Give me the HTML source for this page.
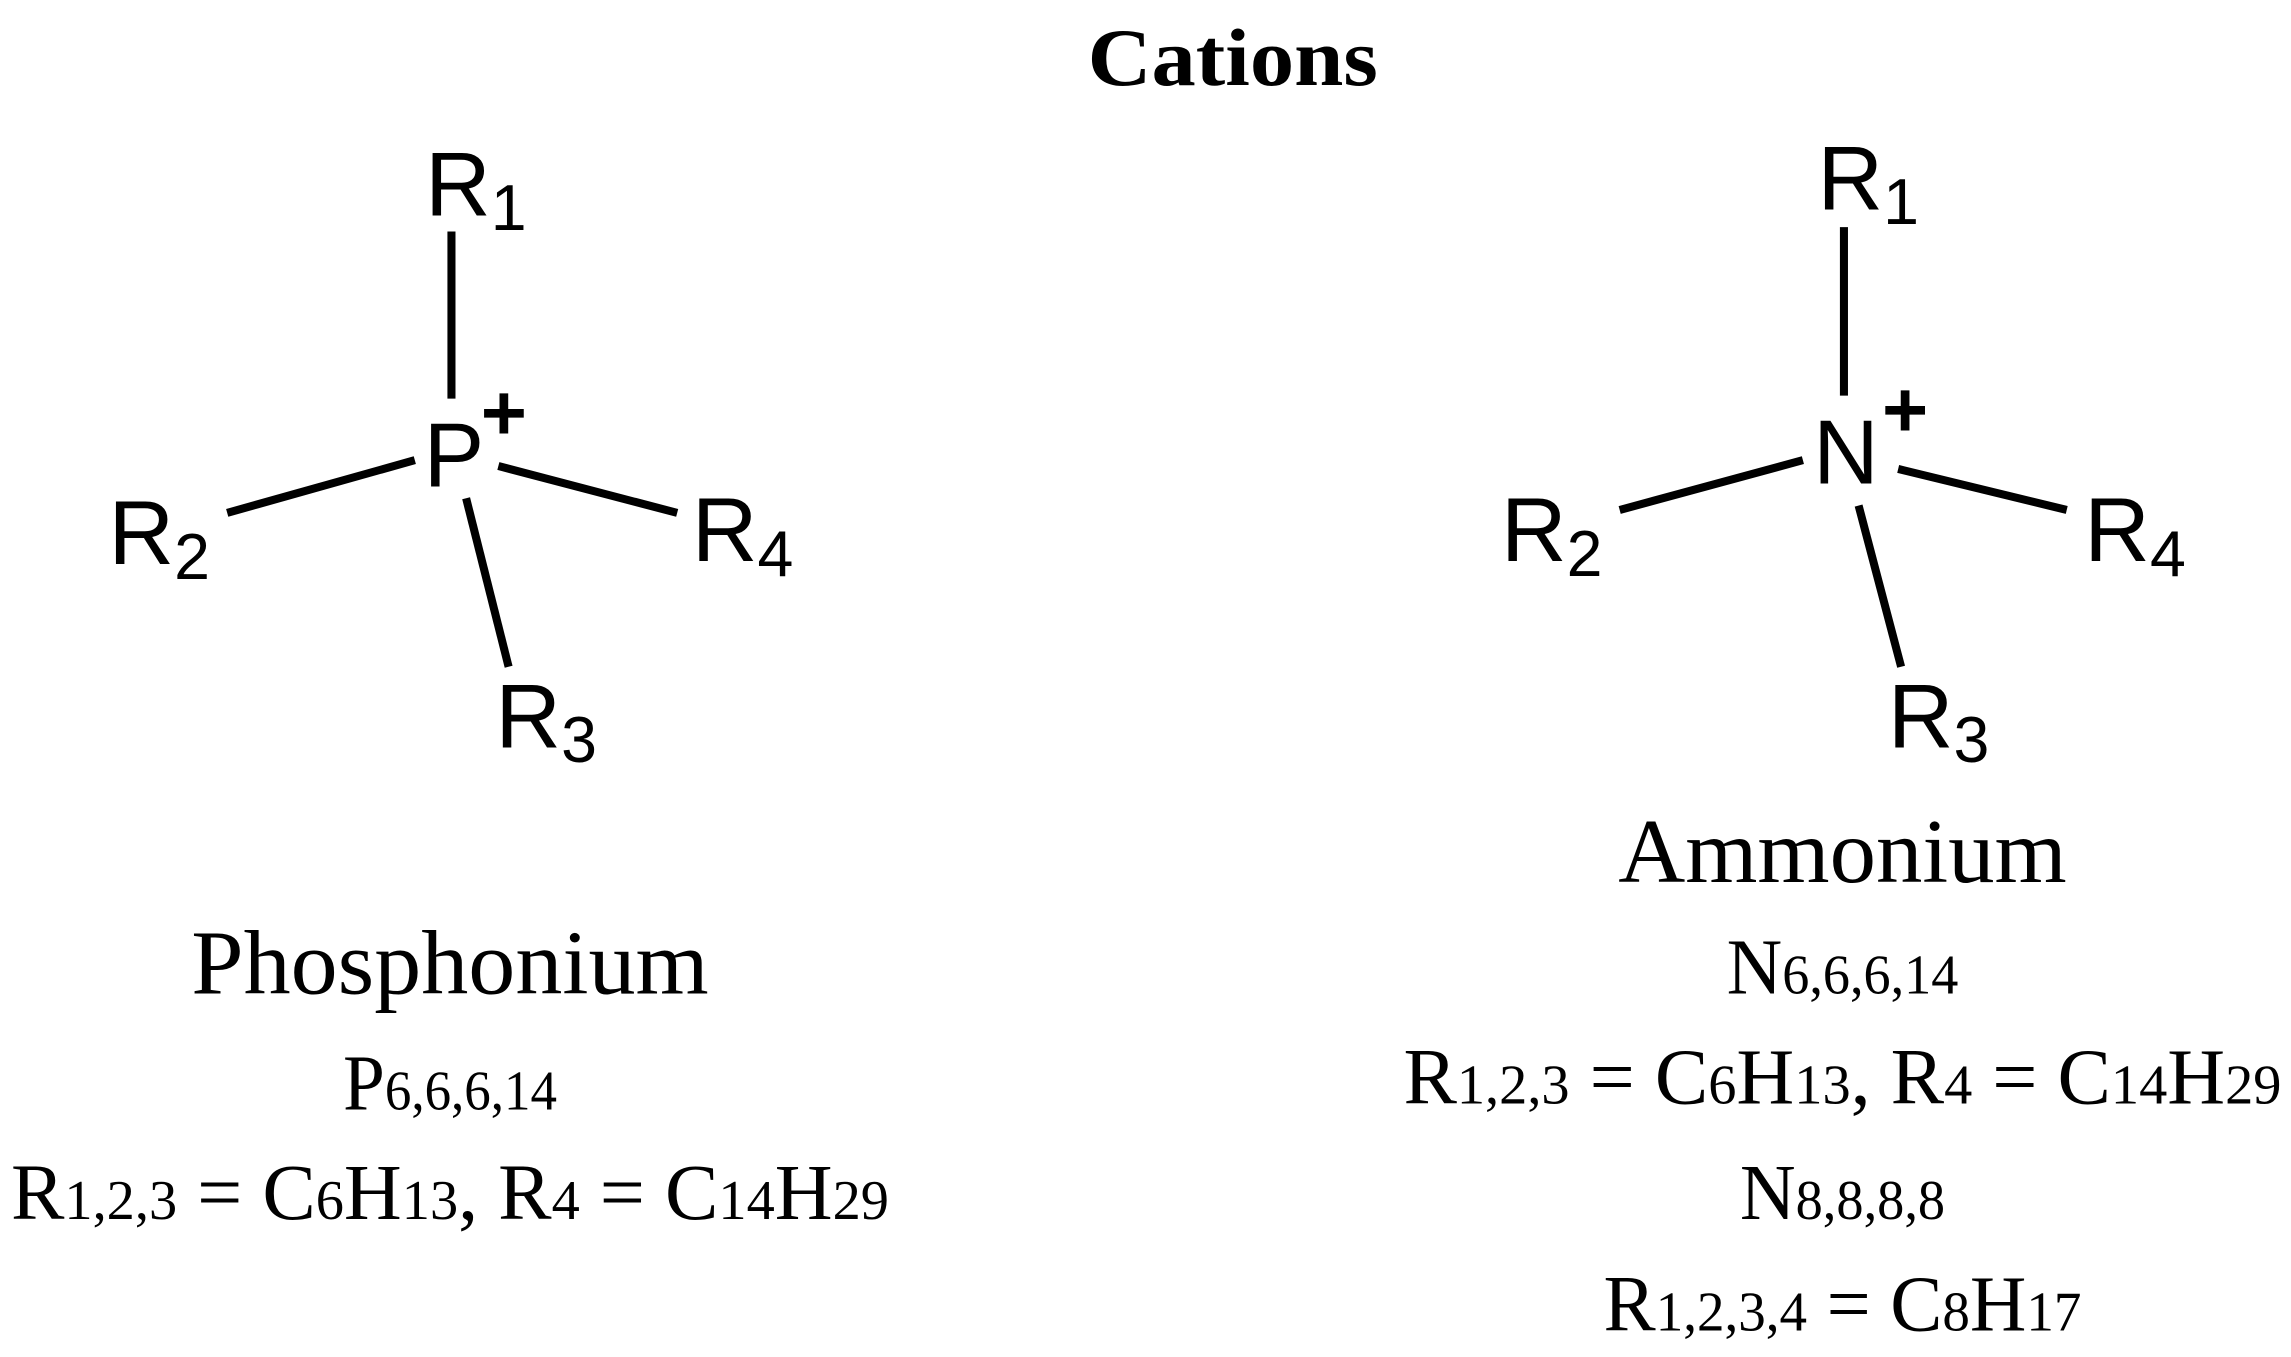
<!DOCTYPE html>
<html><head><meta charset="utf-8"><style>html,body{margin:0;padding:0;background:#fff}svg{display:block}</style></head>
<body>
<svg width="2291" height="1357" viewBox="0 0 1563 926" preserveAspectRatio="none" xmlns="http://www.w3.org/2000/svg">
<rect width="1563" height="926" fill="#fff"/>
<text x="841" y="58" font-family="Liberation Serif, serif" font-weight="bold" font-size="56" text-anchor="middle" textLength="198" lengthAdjust="spacingAndGlyphs">Cations</text>
<g stroke="#000" stroke-width="5.5" stroke-linecap="butt">
<line x1="308" y1="158" x2="308" y2="272"/>
<line x1="155" y1="350" x2="283" y2="314"/>
<line x1="340" y1="318" x2="462" y2="350"/>
<line x1="318" y1="340" x2="347" y2="455"/>
<line x1="1258" y1="155" x2="1258" y2="270"/>
<line x1="1105" y1="348" x2="1230" y2="314"/>
<line x1="1295" y1="320" x2="1410" y2="348"/>
<line x1="1268" y1="345" x2="1297" y2="455"/>
</g>
<g font-family="Liberation Sans, sans-serif" font-size="62">
<text x="290" y="147">R<tspan font-size="44" dy="10">1</tspan></text>
<text x="289" y="332">P</text>
<text x="328" y="300" font-size="54" font-weight="bold">+</text>
<text x="74" y="385">R<tspan font-size="44" dy="10">2</tspan></text>
<text x="472" y="383">R<tspan font-size="44" dy="10">4</tspan></text>
<text x="338" y="510">R<tspan font-size="44" dy="10">3</tspan></text>
<text x="1240" y="143">R<tspan font-size="44" dy="10">1</tspan></text>
<text x="1237" y="330">N</text>
<text x="1284" y="298" font-size="54" font-weight="bold">+</text>
<text x="1024" y="383">R<tspan font-size="44" dy="10">2</tspan></text>
<text x="1422" y="383">R<tspan font-size="44" dy="10">4</tspan></text>
<text x="1288" y="510">R<tspan font-size="44" dy="10">3</tspan></text>
</g>
<g font-family="Liberation Serif, serif" text-anchor="middle">
<text x="307" y="678" font-size="62" textLength="353" lengthAdjust="spacingAndGlyphs">Phosphonium</text>
<text x="307" y="757" font-size="54" textLength="146" lengthAdjust="spacingAndGlyphs">P<tspan font-size="38">6,6,6,14</tspan></text>
<text x="307" y="832" font-size="54" textLength="599" lengthAdjust="spacingAndGlyphs">R<tspan font-size="38">1,2,3</tspan> = C<tspan font-size="38">6</tspan>H<tspan font-size="38">13</tspan>, R<tspan font-size="38">4</tspan> = C<tspan font-size="38">14</tspan>H<tspan font-size="38">29</tspan></text>
<text x="1257" y="602" font-size="62" textLength="306" lengthAdjust="spacingAndGlyphs">Ammonium</text>
<text x="1257" y="678" font-size="54" textLength="158" lengthAdjust="spacingAndGlyphs">N<tspan font-size="38">6,6,6,14</tspan></text>
<text x="1257" y="753" font-size="54" textLength="599" lengthAdjust="spacingAndGlyphs">R<tspan font-size="38">1,2,3</tspan> = C<tspan font-size="38">6</tspan>H<tspan font-size="38">13</tspan>, R<tspan font-size="38">4</tspan> = C<tspan font-size="38">14</tspan>H<tspan font-size="38">29</tspan></text>
<text x="1257" y="832" font-size="54" textLength="140" lengthAdjust="spacingAndGlyphs">N<tspan font-size="38">8,8,8,8</tspan></text>
<text x="1257" y="908" font-size="54" textLength="326" lengthAdjust="spacingAndGlyphs">R<tspan font-size="38">1,2,3,4</tspan> = C<tspan font-size="38">8</tspan>H<tspan font-size="38">17</tspan></text>
</g>
</svg>
</body></html>
